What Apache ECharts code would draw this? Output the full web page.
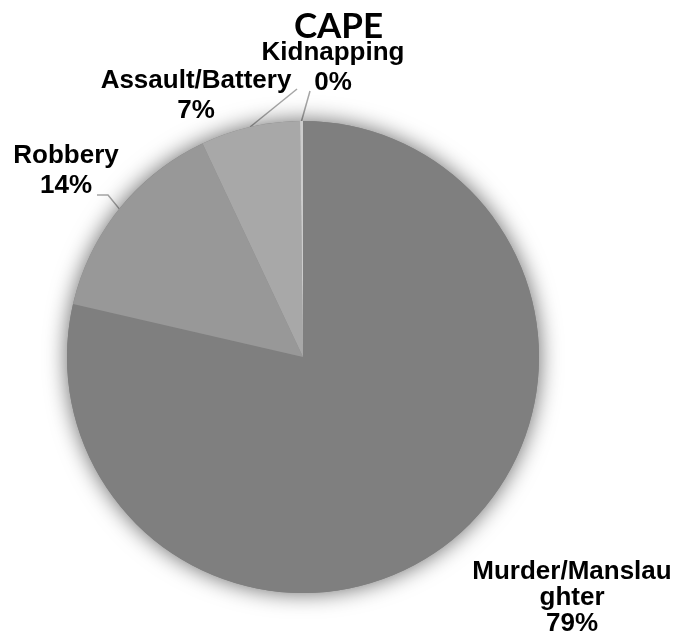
<!DOCTYPE html>
<html>
<head>
<meta charset="utf-8">
<script src="https://cdn.jsdelivr.net/npm/echarts@6/dist/echarts.min.js"></script>
<style>
  html, body { margin: 0; padding: 0; background: #ffffff; }
  #chart { width: 677px; height: 642px; }
</style>
</head>
<body>
<div id="chart"></div>
<script>
// Offence categories and their share of cases (percent)
const categories = ['Murder/Manslaughter', 'Robbery', 'Assault/Battery', 'Kidnapping'];
const shares = [78.6, 14.4, 6.8, 0.2];

// Grey fill per slice, in the same order as the categories
const sliceColors = ['#7f7f7f', '#989898', '#a8a8a8', '#cdcdcd'];

// Where each label block sits (centre), and the bends of its leader line
// relative to that centre; null means no leader line.
const labelSpots = [
  { x: 572, y: 598, tail: null },
  { x: 66, y: 171, tail: [[42, 24], [31, 24]] },
  { x: 196, y: 96, tail: [[101, -7]] },
  { x: 333, y: 68, tail: [[-23, 23]] }
];

const chart = echarts.init(document.getElementById('chart'), null, { renderer: 'canvas' });

const pieCenter = [303, 357];
const pieRadius = 236;

const sliceData = categories.map(function (name, i) {
  const item = {
    name: name,
    value: shares[i],
    itemStyle: { color: sliceColors[i] }
  };
  if (i === 0) {
    item.label = { width: 205, overflow: 'breakAll', lineHeight: 26 };
    item.labelLine = { show: false };
  }
  return item;
});

const total = shares.reduce(function (a, b) { return a + b; }, 0);

chart.setOption({
  animation: false,
  backgroundColor: '#ffffff',
  title: {
    text: 'CAPE',
    left: 'center',
    top: 4,
    textStyle: {
      fontFamily: 'Lato',
      fontWeight: 'bold',
      fontSize: 35,
      color: '#000000'
    }
  },
  series: [
    {
      // soft glow behind the pie
      type: 'pie',
      silent: true,
      center: pieCenter,
      radius: pieRadius,
      label: { show: false },
      labelLine: { show: false },
      itemStyle: {
        color: '#7f7f7f',
        shadowBlur: 22,
        shadowColor: 'rgba(0,0,0,0.6)'
      },
      data: [{ name: 'all', value: total }]
    },
    {
      type: 'pie',
      center: pieCenter,
      radius: pieRadius,
      startAngle: 90,
      clockwise: true,
      percentPrecision: 0,
      avoidLabelOverlap: false,
      itemStyle: { borderWidth: 0 },
      label: {
        show: true,
        position: 'outside',
        formatter: '{b}\n{d}%',
        fontFamily: 'Liberation Sans, Arial, sans-serif',
        fontWeight: 'bold',
        fontSize: 26,
        lineHeight: 30,
        color: '#000000',
        align: 'center'
      },
      labelLine: {
        show: true,
        length: 10,
        length2: 10,
        lineStyle: { color: '#a6a6a6', width: 1.5 }
      },
      labelLayout: function (params) {
        const spot = labelSpots[params.dataIndex];
        const out = { x: spot.x, y: spot.y, align: 'center', verticalAlign: 'middle' };
        const pts = params.labelLinePoints;
        if (pts && spot.tail) {
          out.labelLinePoints = [pts[0]].concat(spot.tail.map(function (t) {
            return [spot.x + t[0], spot.y + t[1]];
          }));
        }
        return out;
      },
      data: sliceData
    }
  ]
});
</script>
</body>
</html>
